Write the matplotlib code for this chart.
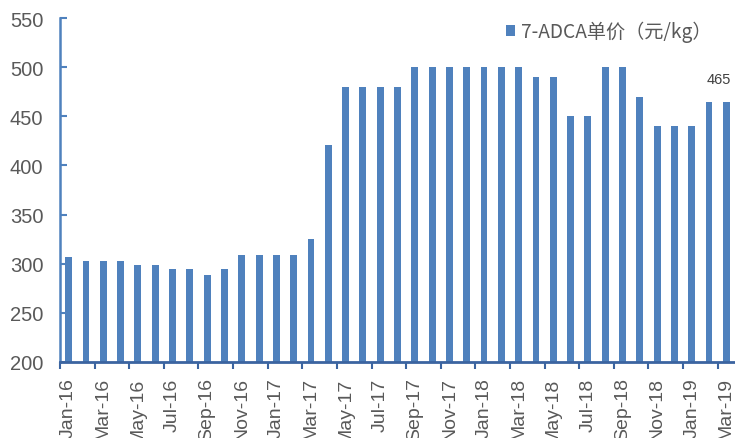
import matplotlib
matplotlib.use("Agg")
import matplotlib.pyplot as plt
import numpy as np

months = ["Jan-16","Feb-16","Mar-16","Apr-16","May-16","Jun-16","Jul-16","Aug-16","Sep-16","Oct-16","Nov-16","Dec-16",
          "Jan-17","Feb-17","Mar-17","Apr-17","May-17","Jun-17","Jul-17","Aug-17","Sep-17","Oct-17","Nov-17","Dec-17",
          "Jan-18","Feb-18","Mar-18","Apr-18","May-18","Jun-18","Jul-18","Aug-18","Sep-18","Oct-18","Nov-18","Dec-18",
          "Jan-19","Feb-19","Mar-19"]
prices = [307, 303, 303, 303, 299, 299, 295, 295, 289, 295, 309, 309,
          309, 309, 325, 421, 480, 480, 480, 480, 500, 500, 500, 500,
          500, 500, 500, 490, 490, 450, 450, 500, 500, 470, 440, 440,
          440, 465, 465]
series_name = "7-ADCA单价（元/kg）"
last_label = "465"

bar_color = "#4f81bd"
axis_color = "#3b64a0"
text_color = "#595959"

W, H = 735, 439
fig = plt.figure(figsize=(W/100, H/100), dpi=100)
ax = fig.add_axes([60/W, (H-363)/H, (735-60)/W, (363-19)/H])

x = np.arange(len(months))
ax.bar(x, prices, width=0.4, color=bar_color, label=series_name, zorder=2)

ax.set_xlim(-0.5, len(months) - 0.5)
ax.set_ylim(200, 550)
ax.set_yticks(np.arange(200, 551, 50))

# x ticks: marks at boundaries every 2 months, labels on odd months
ax.set_xticks(np.arange(-0.5, len(months), 2))
ax.set_xticklabels([])
ax.set_xticks(x[::2], minor=True)
ax.set_xticklabels([months[i] for i in x[::2]], minor=True, rotation=90,
                   fontsize=14, color=text_color, family="Liberation Sans", va="top")
ax.tick_params(axis="x", which="major", direction="out", length=5, width=1.5, color=axis_color)
ax.tick_params(axis="x", which="minor", length=0, pad=11)
ax.tick_params(axis="y", direction="in", length=5, width=1.5, color=bar_color,
               labelsize=14.5, labelcolor=text_color, pad=12)
for lab in ax.get_yticklabels():
    lab.set_family("Liberation Sans")

for s in ["top", "right"]:
    ax.spines[s].set_visible(False)
ax.spines["left"].set_color(bar_color)
ax.spines["left"].set_linewidth(1.8)
ax.spines["bottom"].set_color(axis_color)
ax.spines["bottom"].set_linewidth(2)

ax.annotate(last_label, xy=(x[-1] + 0.25, prices[-1]), xytext=(0, 11),
            textcoords="offset points", ha="right", va="bottom",
            fontsize=10.5, color="#404040", family="Liberation Sans")

leg = ax.legend(loc="upper right", bbox_to_anchor=(712/W, (H-22)/H), bbox_transform=fig.transFigure,
                frameon=False, borderpad=0, borderaxespad=0,
                handlelength=0.45, handleheight=0.45, handletextpad=0.35,
                prop={"family": ["Noto Sans CJK SC", "DejaVu Sans"], "size": 13.8})
for t in leg.get_texts():
    t.set_color(text_color)

fig.savefig("out.png", dpi=100)
